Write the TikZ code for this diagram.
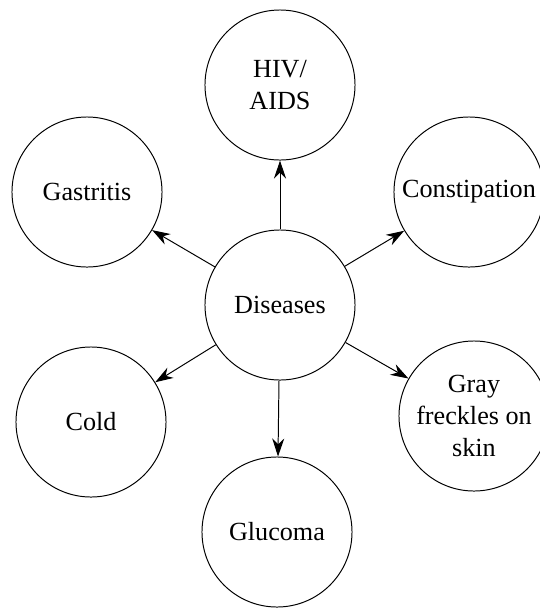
\documentclass[tikz,border=0pt]{standalone}
\usepackage{fontspec}
\setmainfont{Liberation Serif}
\usetikzlibrary{arrows.meta}

\begin{document}
\begin{tikzpicture}[
    x=0.025cm, y=-0.025cm,
    disease/.style={circle, draw, line width=0.7pt, minimum size=3.75cm, inner sep=0pt, align=center, font=\fontsize{18.6}{23}\selectfont},
    arrow/.style={-{Stealth[length=4.5mm, width=3mm]}, line width=0.7pt}
]
\useasboundingbox (0,0) rectangle (540,608);

% Centre
\node[disease] (diseases) at (280,305) {Diseases};

% Surrounding diseases
\node[disease] (hiv) at (280,85) {HIV/\\AIDS};
\node[disease] (gastritis) at (87,192) {Gastritis};
\node[disease] (constipation) at (469,192) {Constipation};
\node[disease] (cold) at (91,422) {Cold};
\node[disease] (freckles) at (474,416) {Gray\\freckles on\\skin};
\node[disease] (glucoma) at (277,532) {Glucoma};

% Arrows
\foreach \target in {hiv, gastritis, constipation, cold, freckles, glucoma}
    \draw[arrow] (diseases) -- (\target);

\end{tikzpicture}
\end{document}
